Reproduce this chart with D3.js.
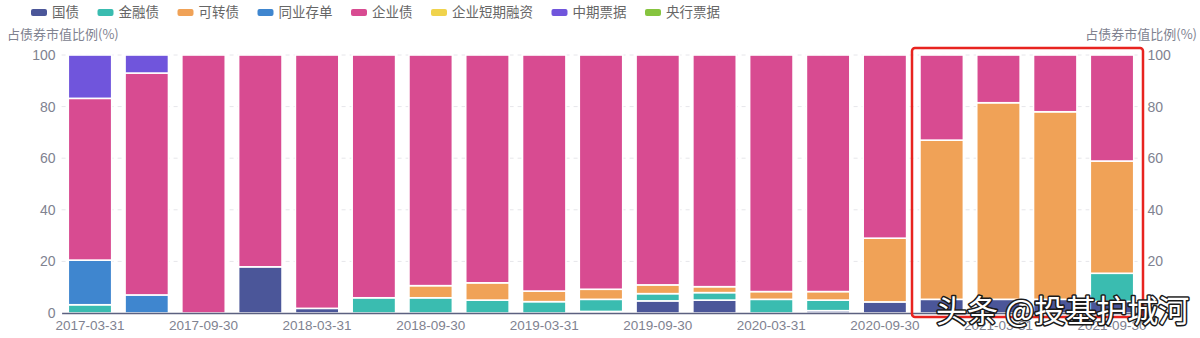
<!DOCTYPE html>
<html><head><meta charset="utf-8">
<script src="https://cdn.jsdelivr.net/npm/d3@7"></script>
<style>
html,body{margin:0;padding:0;background:#fff;}
svg{display:block;font-family:"Noto Sans CJK SC","Noto Sans",sans-serif;}
</style></head>
<body><svg id="c" width="1200" height="338"></svg>
<script>
const categories = ["2017-03-31","2017-06-30","2017-09-30","2017-12-31","2018-03-31","2018-06-30","2018-09-30","2018-12-31","2019-03-31","2019-06-30","2019-09-30","2019-12-31","2020-03-31","2020-06-30","2020-09-30","2020-12-31","2021-03-31","2021-06-30","2021-09-30"];
const seriesNames = ["国债","金融债","可转债","同业存单","企业债","企业短期融资","中期票据","央行票据"];
const seriesColors = ["#4b5699","#3abcb0","#f0a257","#3f86cf","#d84b91","#f0d34c","#7055dc","#86c43f"];
const guozhai   = [0,0,0,17.9,1.8,0,0,0,0,0.6,4.7,5.0,0,0.9,4.3,5.3,5.3,5.3,4.5];
const jinrong   = [3.2,0,0,0,0,5.9,5.9,5.0,4.4,4.7,2.8,2.9,5.3,4.1,0,0,0,0,10.9];
const kezhuan   = [0,0,0,0,0,0,4.7,6.7,4.1,3.9,3.4,2.3,3.0,3.3,24.7,61.7,76.2,72.7,43.5];
const tongye    = [17.3,7.0,0,0,0,0,0,0,0,0,0,0,0,0,0,0,0,0,0];
const qiye      = [62.7,86.0,100,82.1,98.2,94.1,89.4,88.3,91.5,90.8,89.1,89.8,91.7,91.7,71.0,33.0,18.5,22.0,41.1];
const duanqi    = [0,0,0,0,0,0,0,0,0,0,0,0,0,0,0,0,0,0,0];
const zhongqi   = [16.8,7.0,0,0,0,0,0,0,0,0,0,0,0,0,0,0,0,0,0];
const yanghang  = [0,0,0,0,0,0,0,0,0,0,0,0,0,0,0,0,0,0,0];
const yTicks = [0,20,40,60,80,100];
const axisTitle = "占债券市值比例(%)";
const watermark = "头条 @投基护城河";

(function(){
const seriesValues = [guozhai,jinrong,kezhuan,tongye,qiye,duanqi,zhongqi,yanghang];
const rows = categories.map((c,i)=>{const r={cat:c}; seriesNames.forEach((s,k)=>r[s]=seriesValues[k][i]); return r;});

const svg = d3.select("#c");
const pL = 61.6, pR = 1140.4, pT = 55, pB = 313;
const x = d3.scaleBand().domain(categories).range([pL,pR]).paddingInner(0.235).paddingOuter(0.1175);
const y = d3.scaleLinear().domain([0,100]).range([pB,pT]);
const textCol = "#808290";

// grid
svg.append("g").selectAll("line").data(yTicks.filter(d=>d>0)).join("line")
  .attr("x1",pL).attr("x2",pR).attr("y1",d=>y(d)).attr("y2",d=>y(d))
  .attr("stroke","#e6e6ea").attr("stroke-dasharray","4,4").attr("stroke-width",1);

// bars
const stack = d3.stack().keys(seriesNames)(rows);
const g = svg.append("g");
stack.forEach((layer,k)=>{
  g.append("g").attr("fill",seriesColors[k]).selectAll("rect")
    .data(layer.filter(d=>d[1]-d[0]>0)).join("rect")
    .attr("x",d=>x(d.data.cat)).attr("width",x.bandwidth())
    .attr("y",d=>y(d[1])).attr("height",d=>y(d[0])-y(d[1]))
    .attr("stroke","#fff").attr("stroke-width",1.6);
});

// x axis
const xa = svg.append("g").attr("transform",`translate(0,${pB})`)
  .call(d3.axisBottom(x).tickSize(0).tickPadding(7).tickValues(categories.filter((d,i)=>i%2===0)));
xa.select(".domain").attr("stroke","#5c6180").attr("stroke-width",1.5);
xa.selectAll("text").attr("fill",textCol).attr("font-size",13.5).style("font-family","inherit");

// y axes
const yl = svg.append("g").attr("transform",`translate(${pL-6},0)`)
  .call(d3.axisLeft(y).tickValues(yTicks).tickSize(0).tickPadding(0));
yl.select(".domain").remove();
yl.selectAll("text").attr("fill",textCol).attr("font-size",14).style("font-family","inherit");
const yr = svg.append("g").attr("transform",`translate(${pR+7},0)`)
  .call(d3.axisRight(y).tickValues(yTicks).tickSize(0).tickPadding(0));
yr.select(".domain").remove();
yr.selectAll("text").attr("fill",textCol).attr("font-size",14).style("font-family","inherit");

// axis titles
svg.append("text").attr("x",7).attr("y",39).attr("fill",textCol).attr("font-size",13).text(axisTitle);
svg.append("text").attr("x",1197).attr("y",39).attr("text-anchor","end").attr("fill",textCol).attr("font-size",13).text(axisTitle);

// legend
const lg = svg.append("g");
let lx = 31;
seriesNames.forEach((s,k)=>{
  lg.append("rect").attr("x",lx).attr("y",9).attr("width",16).attr("height",7).attr("rx",2).attr("fill",seriesColors[k]);
  const t = lg.append("text").attr("x",lx+21).attr("y",17).attr("font-size",13.5).attr("fill","#666").text(s);
  lx += 21 + t.node().getComputedTextLength() + 18.5;
});

// red highlight box
svg.append("rect").attr("x",912).attr("y",48).attr("width",231).attr("height",269).attr("rx",3)
  .attr("fill","none").attr("stroke","#e8231f").attr("stroke-width",2.5);

// watermark
svg.append("text").attr("x",936).attr("y",322).attr("font-size",31).attr("font-weight",400)
  .attr("fill","#fff").attr("stroke","#1a1a1a").attr("stroke-width",3).attr("paint-order","stroke")
  .attr("stroke-linejoin","round").text(watermark);
})();
</script></body></html>
